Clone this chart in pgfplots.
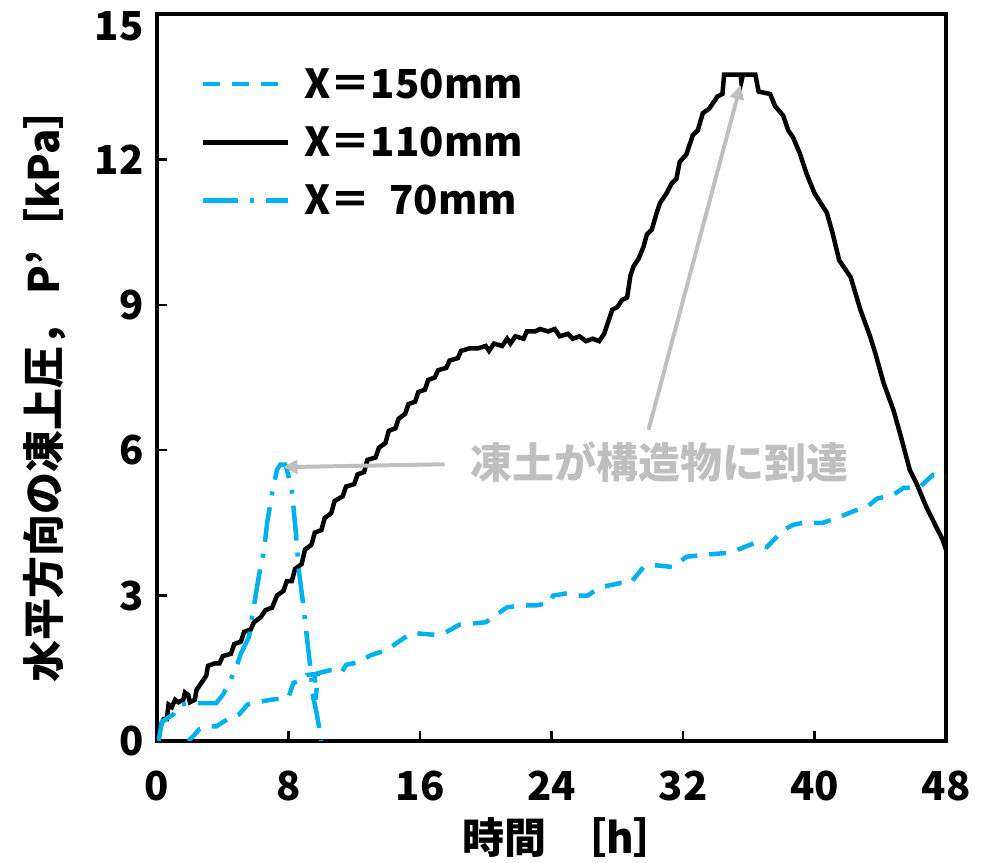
\documentclass[border=0pt]{standalone}
\usepackage{pgfplots}
\pgfplotsset{compat=1.18}
\usetikzlibrary{arrows.meta}
\usepackage{fontspec}
\setmainfont{Noto Sans CJK JP}
\definecolor{cy}{RGB}{0,176,240}
\definecolor{annot}{RGB}{191,191,191}
\begin{document}
\begin{tikzpicture}
\useasboundingbox (0,0) rectangle (982bp,863bp);
\begin{axis}[
  at={(157bp,122bp)}, anchor=south west,
  width=789bp, height=727bp, scale only axis,
  xmin=0, xmax=48, ymin=0, ymax=15,
  xtick={0,8,...,48}, ytick={0,3,...,12},
  extra y ticks={15},
  extra y tick style={yticklabel style={yshift=-12bp}},
  tick align=inside, tick pos=left,
  major tick length=10bp,
  every tick/.style={black, line width=2.5bp},
  axis line style={line width=4bp},
  /pgf/number format/assume math mode=true,
  ticklabel style={font=\fontsize{40bp}{40bp}\selectfont\bfseries},
  xticklabel style={yshift=-26bp},
  yticklabel style={xshift=-10bp},
  xlabel={時間\hspace{18bp}［h］},
  ylabel={水平方向の凍上圧，\ P’［kPa］},
  label style={font=\fontsize{42bp}{42bp}\selectfont\bfseries},
  xlabel style={at={(axis description cs:0.522,-0.133)}, anchor=center},
  ylabel style={at={(axis description cs:-0.142,0.49)}, anchor=center},
  legend style={draw=none, fill=none, at={(axis description cs:0.052,0.931)}, anchor=north west,
    font=\fontsize{40bp}{44bp}\selectfont\bfseries, row sep=23bp,
    /tikz/every odd column/.append style={column sep=12bp}},
  legend cell align=left,
  legend image code/.code={\draw[#1] (0bp,0bp) -- (85bp,0bp);},
]
% X=150mm dashed
\addplot[cy, line width=4.5bp, dash pattern=on 17bp off 12bp] coordinates {
(1.9,0) (2.2,0.1) (2.6,0.25) (3.2,0.3) (3.6,0.3) (4.3,0.45) (5.0,0.55) (5.5,0.75)
(6.1,0.8) (6.9,0.85) (7.7,0.88) (8.0,0.9) (8.3,1.2) (8.8,1.25) (9.1,1.36) (9.6,1.38)
(9.65,0.85) (9.8,1.4) (10.5,1.46) (11.2,1.4) (11.5,1.57) (12.3,1.63) (13.0,1.77) (14.0,1.88)
(15.0,2.12) (15.5,2.23) (16.9,2.19) (17.5,2.23) (18.4,2.4) (20.0,2.45) (20.8,2.64)
(21.3,2.76) (22.3,2.8) (23.1,2.8) (23.9,2.85) (24.1,3.0) (25.0,3.05) (25.4,3.0)
(26.2,3.0) (26.5,3.07) (27.1,3.18) (28.2,3.26) (28.8,3.26) (29.6,3.59) (30.2,3.63)
(31.4,3.59) (32.2,3.8) (33.2,3.84) (34.7,3.88) (35.3,3.94) (36.3,4.08) (37.1,4.0)
(38.1,4.35) (38.7,4.46) (39.3,4.5) (40.5,4.5) (41.5,4.62) (42.6,4.77) (43.2,4.83)
(43.8,5.0) (44.8,5.08) (45.4,5.22) (46.4,5.24) (47.2,5.49) (48.0,5.45)
};
\addlegendentry{X＝150mm}
% X=110mm solid
\addplot[black, line width=4.5bp] coordinates {
(0,0) (0.2,0.3) (0.4,0.45) (0.6,0.45) (0.7,0.75) (0.9,0.7) (1.1,0.85) (1.3,0.8)
(1.6,0.85) (1.7,1.0) (1.9,0.95) (2.0,0.8) (2.3,0.85) (2.4,1.05) (2.7,1.2) (3.0,1.35)
(3.1,1.55) (3.5,1.6) (3.8,1.6) (4.0,1.75) (4.5,1.8) (4.7,2.0) (5.1,2.05) (5.3,2.25)
(5.7,2.3) (5.9,2.45) (6.3,2.55) (6.6,2.7) (7.0,2.75) (7.3,3.0) (7.7,3.1) (7.9,3.3)
(8.2,3.3) (8.4,3.55) (8.8,3.65) (9.0,3.95) (9.4,4.05) (9.6,4.3) (10.0,4.35) (10.2,4.6)
(10.6,4.7) (10.8,4.95) (11.3,5.05) (11.5,5.25) (12.0,5.3) (12.2,5.5) (12.6,5.55)
(12.8,5.8) (13.3,5.85) (13.5,6.05) (13.9,6.15) (14.1,6.4) (14.5,6.45) (14.7,6.65)
(15.1,6.75) (15.3,6.95) (15.7,7.0) (15.9,7.2) (16.3,7.25) (16.5,7.45) (16.9,7.5)
(17.1,7.65) (17.6,7.7) (17.8,7.85) (18.3,7.9) (18.5,8.05) (19.0,8.1) (19.5,8.1)
(20.0,8.15) (20.2,8.05) (20.5,8.2) (21.0,8.15) (21.3,8.3) (21.5,8.2) (21.8,8.35)
(22.3,8.3) (22.5,8.45) (23.0,8.45) (23.3,8.5) (23.8,8.45) (24.2,8.5) (24.5,8.35)
(25.0,8.4) (25.3,8.3) (25.7,8.35) (26.1,8.25) (26.5,8.3) (26.9,8.25) (27.2,8.4)
(27.5,8.7) (27.7,8.9) (28.0,8.95) (28.3,9.1) (28.6,9.15) (28.8,9.6) (29.0,9.8)
(29.3,9.95) (29.6,10.2) (29.8,10.45) (30.1,10.55) (30.4,10.9) (30.6,11.1) (31.0,11.3)
(31.3,11.5) (31.6,11.6) (31.8,11.95) (32.2,12.1) (32.6,12.5) (32.9,12.6) (33.2,12.95)
(33.6,13.05) (34.1,13.3) (34.4,13.35) (34.5,13.75) (35.5,13.75) (35.55,13.6)
(35.65,13.75) (36.4,13.75) (36.6,13.4) (37.3,13.35) (37.6,13.1) (38.1,12.9)
(38.4,12.6) (38.7,12.45) (39.1,12.13) (39.5,11.72) (40.0,11.3) (40.75,10.9)
(41.1,10.48) (41.5,9.92) (42.2,9.57) (42.8,8.89) (43.4,8.33) (43.7,8.0) (44.2,7.39)
(44.8,6.83) (45.2,6.35) (45.8,5.59) (46.2,5.32) (46.8,4.83) (47.4,4.42) (47.8,4.15) (48.0,3.95)
};
\addlegendentry{X＝110mm}
% X=70mm dash-dot
\addplot[cy, line width=4.5bp, dash pattern=on 35bp off 12bp on 4bp off 12bp] coordinates {
(0.1,0) (0.3,0.4) (1.0,0.55) (1.4,0.75) (2.0,0.78) (3.6,0.78) (4.0,0.95) (4.4,1.2)
(4.9,1.6) (5.1,1.8) (5.6,2.15) (5.8,2.6) (6.3,3.6) (6.5,3.9) (6.7,4.5) (7.0,5.1)
(7.3,5.6) (7.5,5.7) (7.8,5.7) (7.9,5.6) (8.2,5.2) (8.5,4.1) (8.6,3.6) (8.9,2.8)
(9.1,2.2) (9.3,1.6) (9.5,0.9) (9.7,0.6) (10.0,0)
};
\addlegendentry{X＝\ \ 70mm}
% annotation
\draw[annot, line width=4bp, -{Triangle[length=14bp,width=14bp]}] (axis cs:17.5,5.71) -- (axis cs:7.7,5.65);
\draw[annot, line width=4bp, -{Triangle[length=14bp,width=14bp]}] (axis cs:29.9,6.42) -- (axis cs:35.5,13.53);
\node[text=annot, font=\fontsize{42bp}{42bp}\selectfont\bfseries, anchor=center, fill=white, inner sep=1bp] at (axis cs:30.6,5.76) {凍土が構造物に到達};
\end{axis}
\end{tikzpicture}
\end{document}
